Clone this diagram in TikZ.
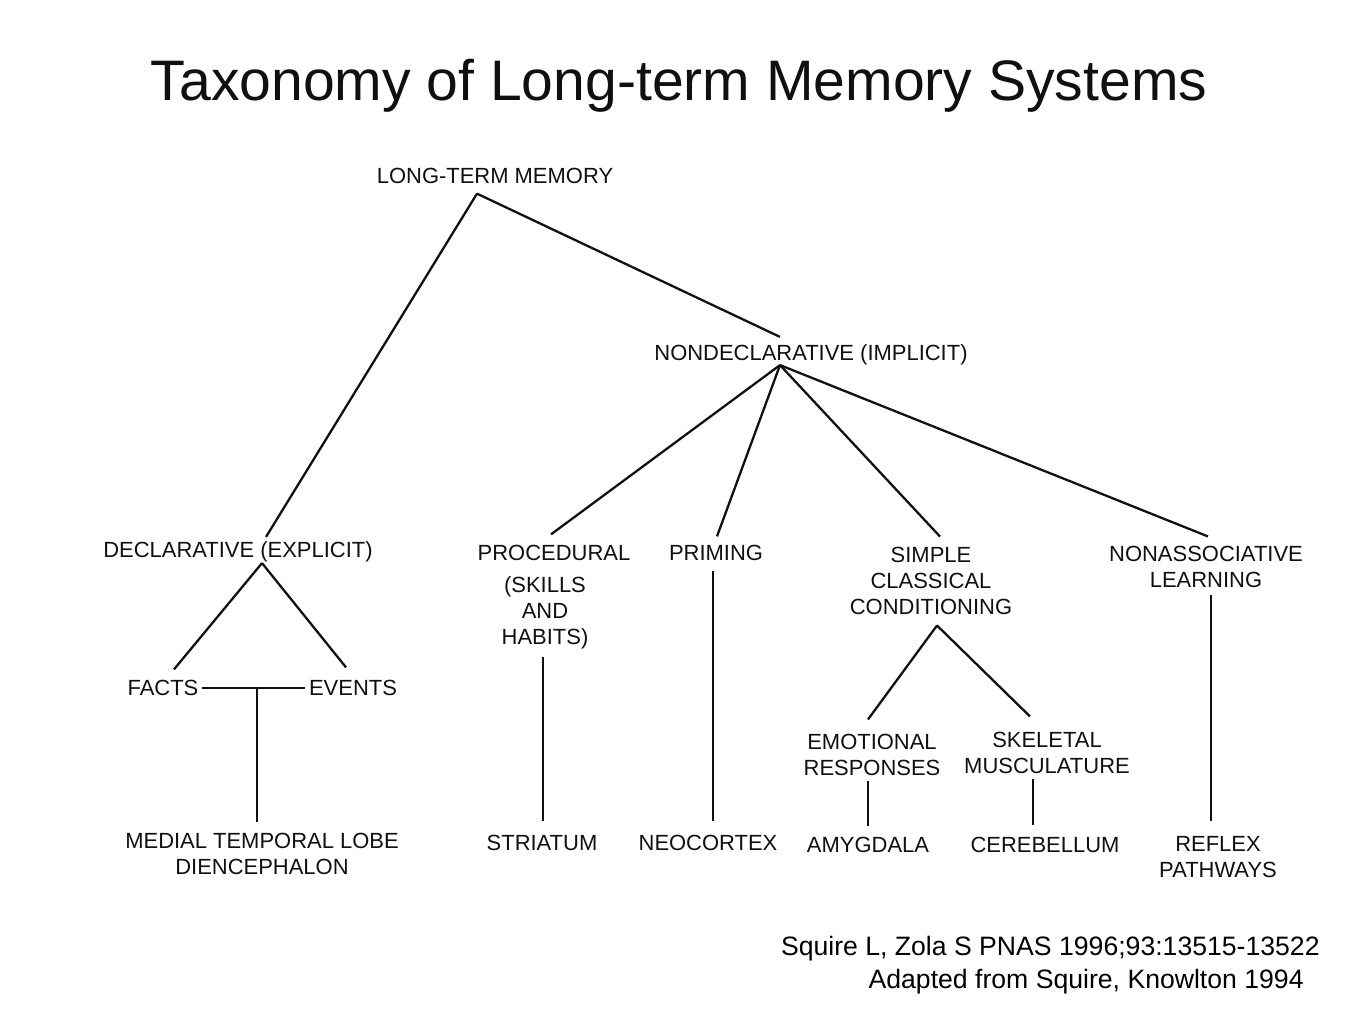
\documentclass[tikz,border=0pt]{standalone}
\usepackage{fontspec}
\setmainfont{Liberation Sans}
\usepackage{xcolor}
\usepackage{tikz}
\usetikzlibrary{calc}
\definecolor{ink}{HTML}{101010}
\tikzset{
  lab/.style={text=ink, font=\fontsize{12.5}{14.7}\selectfont, inner sep=2pt, align=center},
  link/.style={draw=ink, line width=1.3pt},
  ttl/.style={text=ink, font=\fontsize{32.5}{38}\selectfont, inner sep=0pt, anchor=base},
  cite/.style={text=black, font=\fontsize{15.15}{18}\selectfont, inner sep=0pt, anchor=base east},
}

\begin{document}
\begin{tikzpicture}[x=0.02cm, y=-0.02cm]
\fill[white] (0,0) rectangle (1357,1012);
\useasboundingbox (0,0) rectangle (1357,1012);
\node[ttl] (title) at (679,100) {Taxonomy of Long-term Memory Systems};

% top levels
\node[lab] (ltm) at (495,176) {LONG-TERM MEMORY};
\node[lab] (nondecl) at (811,355) {NONDECLARATIVE (IMPLICIT)};
\node[lab] (decl) at (238,552) {DECLARATIVE (EXPLICIT)};

% nondeclarative branches
\node[lab] (proc) at (554,553) {PROCEDURAL};
\node[lab] (habits) at (545,613) {(SKILLS\\AND\\HABITS)};
\node[lab] (priming) at (716,553) {PRIMING};
\node[lab] (scc) at (931,581) {SIMPLE\\CLASSICAL\\CONDITIONING};
\node[lab] (nonassoc) at (1206,567) {NONASSOCIATIVE\\LEARNING};

% declarative branches
\node[lab] (facts) at (163,688) {FACTS};
\node[lab] (events) at (353,688) {EVENTS};

% conditioning branches
\node[lab] (emo) at (872,755) {EMOTIONAL\\RESPONSES};
\node[lab] (skel) at (1047,753) {SKELETAL\\MUSCULATURE};

% brain structures
\node[lab] (mtl) at (262,854) {MEDIAL TEMPORAL LOBE\\DIENCEPHALON};
\node[lab] (striatum) at (542,843) {STRIATUM};
\node[lab] (neocortex) at (708,843) {NEOCORTEX};
\node[lab] (amygdala) at (868,845) {AMYGDALA};
\node[lab] (cerebellum) at (1045,845) {CEREBELLUM};
\node[lab] (reflex) at (1218,857) {REFLEX\\PATHWAYS};

% junctions
\coordinate (ltmJ) at ($(ltm.south)+(-18,6)$);
\coordinate (ndJ) at ($(nondecl.south)+(-31,-4)$);
\coordinate (declJ) at ($(decl.south)+(24,-3)$);
\coordinate (sccJ) at ($(scc.south)+(6,7)$);
\coordinate (fe) at ($(facts.east)!0.53!(events.west)$);

% tree lines
\draw[link] (ltmJ) -- ($(decl.north)+(28,-1)$);
\draw[link] (ltmJ) -- ($(nondecl.north)+(-31,-4)$);
\draw[link] (ndJ) -- ($(proc.north)+(-3,-7)$);
\draw[link] (ndJ) -- ($(priming.north)+(1,-5)$);
\draw[link] (ndJ) -- ($(scc.north)+(9,-7)$);
\draw[link] (ndJ) -- ($(nonassoc.north)+(2,-6)$);
\draw[link] (declJ) -- ($(facts.north)+(11,-7)$);
\draw[link] (declJ) -- ($(events.north)+(-7,-9)$);
\draw[link] (facts.east) -- (events.west);
\draw[link] (fe) -- ($(fe |- mtl.north)+(0,-7)$);
\draw[link] ($(habits.south)+(-2,4)$) -- ($(striatum.north)+(1,-10)$);
\draw[link] ($(priming.south)+(-3,6)$) -- ($(neocortex.north)+(5,-10)$);
\draw[link] (sccJ) -- ($(emo.north)+(-4,-11)$);
\draw[link] (sccJ) -- ($(skel.north)+(-17,-12)$);
\draw[link] ($(emo.south)+(-4,1)$) -- ($(amygdala.north)+(0,-7)$);
\draw[link] ($(skel.south)+(-14,1)$) -- ($(cerebellum.north)+(-12,-8)$);
\draw[link] ($(nonassoc.south)+(5,3)$) -- ($(reflex.north)+(-7,-12)$);

% source
\node[cite] (cite1) at (1320,955) {Squire L, Zola S PNAS 1996;93:13515-13522};
\node[cite] (cite2) at (1304,988) {Adapted from Squire, Knowlton 1994};
\end{tikzpicture}
\end{document}
